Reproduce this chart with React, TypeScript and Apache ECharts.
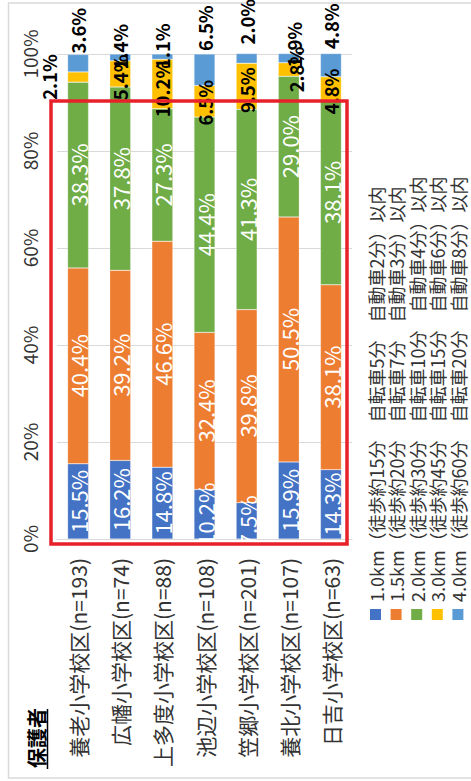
import React, { useEffect, useRef } from 'react';
import * as echarts from 'echarts';

const FONT = '"Noto Sans CJK JP", "Noto Sans", sans-serif';

const categories = [
  '養老小学校区(n=193)',
  '広幡小学校区(n=74)',
  '上多度小学校区(n=88)',
  '池辺小学校区(n=108)',
  '笠郷小学校区(n=201)',
  '養北小学校区(n=107)',
  '日吉小学校区(n=63)',
];

const seriesNames = [
  '1.0km（徒歩約15分　自転車5分　自動車2分）以内',
  '1.5km（徒歩約20分　自転車7分　自動車3分）以内',
  '2.0km（徒歩約30分　自転車10分　自動車4分）以内',
  '3.0km（徒歩約45分　自転車15分　自動車6分）以内',
  '4.0km（徒歩約60分　自転車20分　自動車8分）以内',
];

const seriesColors = ['#4472C4', '#ED7D31', '#70AD47', '#FFC000', '#5B9BD5'];

const within10 = [15.5, 16.2, 14.8, 10.2, 7.5, 15.9, 14.3];
const within15 = [40.4, 39.2, 46.6, 32.4, 39.8, 50.5, 38.1];
const within20 = [38.3, 37.8, 27.3, 44.4, 41.3, 29.0, 38.1];
const within30 = [2.1, 5.4, 10.2, 6.5, 9.5, 2.8, 4.8];
const within40 = [3.6, 1.4, 1.1, 6.5, 2.0, 1.9, 4.8];

const valueTicks = [0, 20, 40, 60, 80, 100];

const titleText = '保護者';

// small manual label nudges (as in the original, where labels were dragged to avoid overlaps)
const yellowLabelShift = [[0, 0], [-3.5, 0], [-5, 0], [-1.5, 0], [-4, 0], [0, 7], [-3, 0]];
const lightBlueLabelShift = [[-2, 0], [-18.5, 0], [-18, 0], [0, 0], [6, 0], [-17, 5], [1.5, 0]];

export default function App() {
  const ref = useRef<HTMLDivElement>(null);

  useEffect(() => {
    document.body.style.margin = '0';
    const chart = echarts.init(ref.current!, null, { renderer: 'svg' });

    const fmt = (p: any) => Number(p.value).toFixed(1) + '%';

    const whiteLabel = {
      show: true,
      position: 'inside',
      rotate: 90,
      align: 'center',
      verticalAlign: 'middle',
      color: '#ffffff',
      fontSize: 22,
      fontFamily: FONT,
      formatter: fmt,
    };

    const blackInside = {
      show: true,
      position: 'inside',
      rotate: 90,
      align: 'center',
      verticalAlign: 'middle',
      color: '#000000',
      fontSize: 18.5,
      fontWeight: 'bold',
      fontFamily: FONT,
      formatter: fmt,
    };

    const blackTop = {
      show: true,
      position: 'top',
      distance: 3,
      rotate: 90,
      align: 'left',
      verticalAlign: 'middle',
      color: '#000000',
      fontSize: 18.5,
      fontWeight: 'bold',
      fontFamily: FONT,
      formatter: fmt,
    };

    const dataSets = [within10, within15, within20, within30, within40];

    const series = dataSets.map((arr, si) => {
      let data: any[] = arr;
      let label: any = whiteLabel;
      if (si === 3) {
        label = blackInside;
        data = arr.map((v, i) => {
          if (i === 0)
            return {
              value: v,
              label: { position: 'left', align: 'center', verticalAlign: 'bottom', distance: 9 },
            };
          return { value: v, label: { offset: yellowLabelShift[i] } };
        });
      }
      if (si === 4) {
        label = blackTop;
        data = arr.map((v, i) => ({ value: v, label: { offset: lightBlueLabelShift[i] } }));
      }
      return {
        name: seriesNames[si],
        type: 'bar',
        stack: 'total',
        barWidth: 21,
        data,
        itemStyle: { color: seriesColors[si], borderColor: 'rgba(255,255,255,0.5)', borderWidth: 0.5 },
        label,
        clip: false,
      };
    });

    const legendGraphics: any[] = [];
    seriesNames.forEach((name, i) => {
      const cx = 375.5 + i * 20.6;
      legendGraphics.push({
        type: 'rect',
        shape: { x: cx - 5.5, y: 609, width: 11, height: 11 },
        style: { fill: seriesColors[i] },
      });
      legendGraphics.push({
        type: 'text',
        x: cx,
        y: 602,
        rotation: Math.PI / 2,
        style: {
          text: name,
          fontSize: 18,
          fontFamily: FONT,
          fill: '#333333',
          align: 'left',
          verticalAlign: 'middle',
          textAlign: 'left',
          textVerticalAlign: 'middle',
        },
      });
    });

    const option: any = {
      animation: false,
      backgroundColor: '#ffffff',
      grid: { left: 57, right: 119, top: 54, bottom: 242, containLabel: false, outerBoundsMode: 'none' },
      xAxis: {
        type: 'category',
        data: categories,
        axisLine: { show: true, lineStyle: { color: '#d9d9d9', width: 1 } },
        axisTick: { show: false },
        axisLabel: {
          interval: 0,
          rotate: 90,
          margin: 19,
          fontSize: 21,
          fontFamily: FONT,
          color: '#333333',
          align: 'right',
          verticalAlign: 'middle',
        },
      },
      yAxis: {
        type: 'value',
        min: valueTicks[0],
        max: valueTicks[valueTicks.length - 1],
        interval: 20,
        axisLine: { show: false },
        axisTick: { show: false },
        splitLine: { lineStyle: { color: '#d9d9d9', width: 1 } },
        axisLabel: {
          rotate: 90,
          margin: 18,
          fontSize: 19,
          fontFamily: FONT,
          color: '#333333',
          align: 'center',
          verticalAlign: 'bottom',
          formatter: '{value}%',
        },
      },
      series,
      graphic: [
        {
          type: 'rect',
          z: -10,
          shape: { x: 8.5, y: 3, width: 480, height: 775 },
          style: { fill: 'none', stroke: '#d9d9d9', lineWidth: 1.5 },
        },
        ...legendGraphics,
        {
          type: 'text',
          x: 36,
          y: 768,
          rotation: Math.PI / 2,
          style: {
            text: titleText,
            fontSize: 20,
            fontWeight: 'bold',
            fontFamily: FONT,
            fill: '#000000',
            align: 'left',
            verticalAlign: 'middle',
            textAlign: 'left',
            textVerticalAlign: 'middle',
          },
        },
        {
          type: 'line',
          shape: { x1: 47.5, y1: 709, x2: 47.5, y2: 769 },
          style: { stroke: '#000000', lineWidth: 1.5 },
        },
        {
          type: 'rect',
          z: 100,
          shape: { x: 51, y: 101, width: 296, height: 443 },
          style: { fill: 'none', stroke: '#e8202a', lineWidth: 3.5 },
        },
      ],
    };

    chart.setOption(option);
    return () => chart.dispose();
  }, []);

  return <div ref={ref} style={{ width: 471, height: 781 }} />;
}
